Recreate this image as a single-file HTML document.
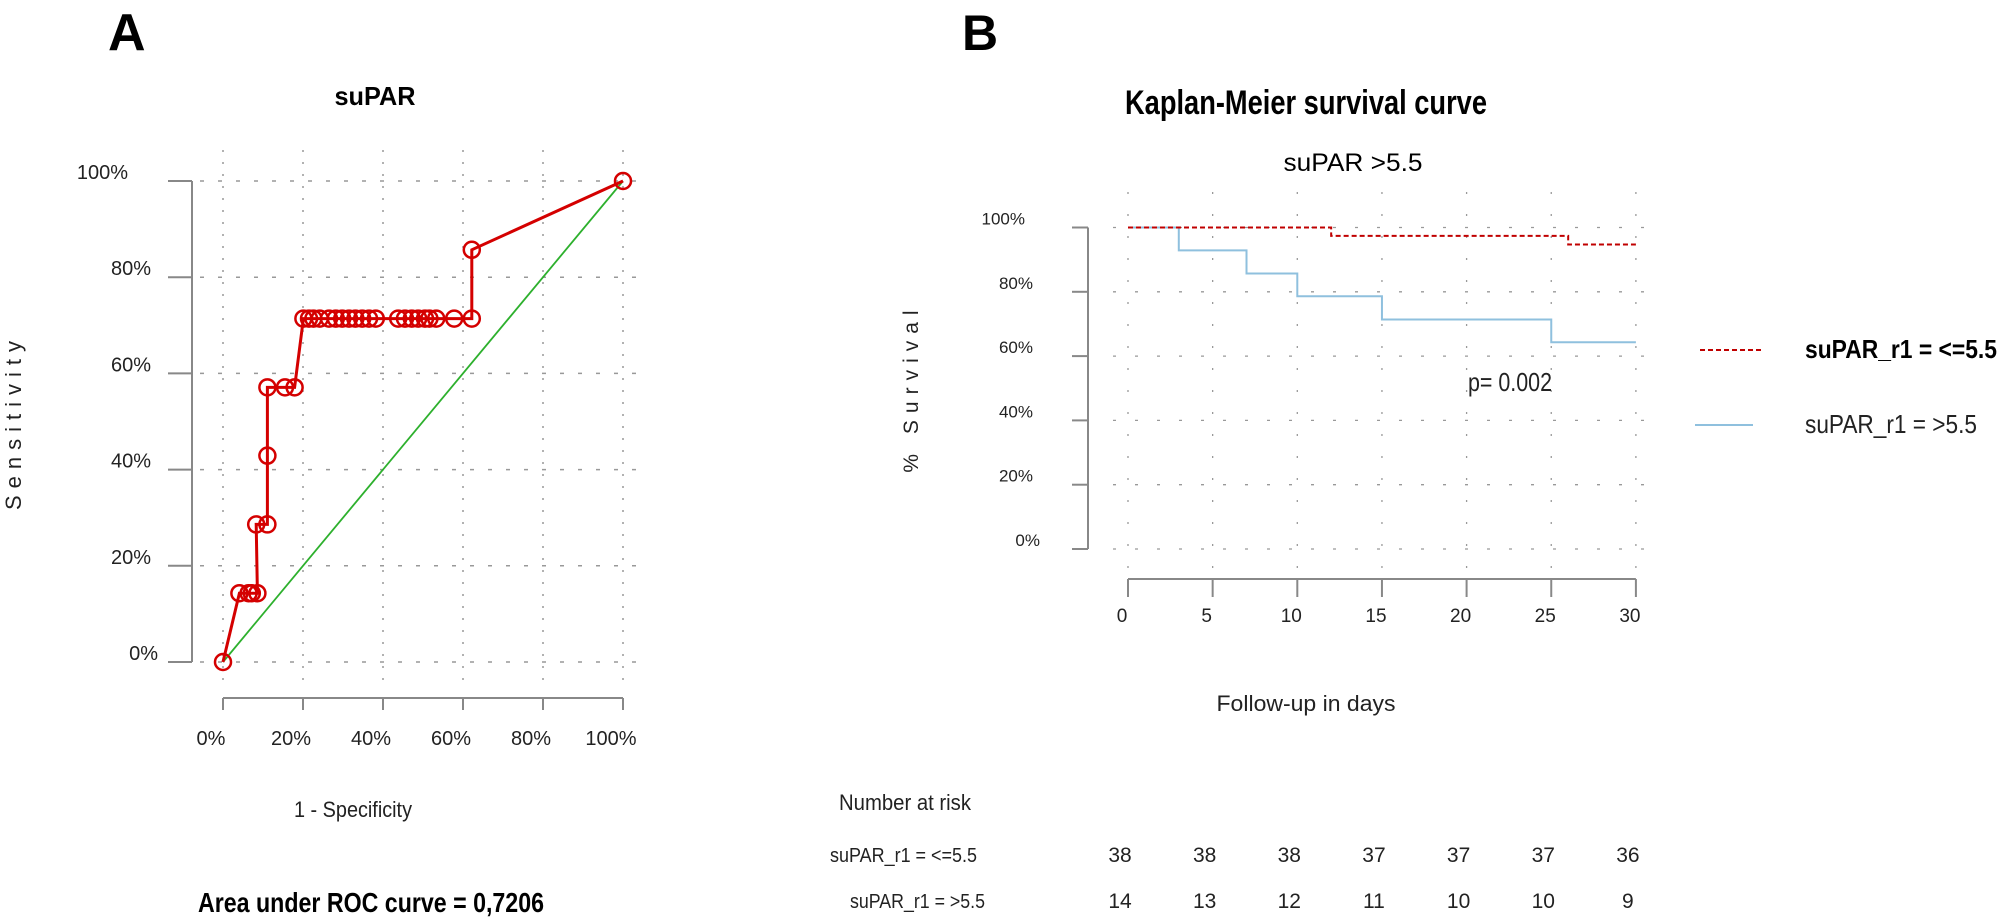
<!DOCTYPE html>
<html><head><meta charset="utf-8"><style>
html,body{margin:0;padding:0;background:#fff;}
svg{display:block;font-family:"Liberation Sans Narrow","Liberation Sans",sans-serif;}
</style></head><body>
<svg id="fig" width="2000" height="920" viewBox="0 0 2000 920" xmlns="http://www.w3.org/2000/svg">
<text x="108" y="50" font-family="Liberation Sans,sans-serif" font-weight="bold" font-size="52">A</text>
<text x="962" y="50" font-family="Liberation Sans,sans-serif" font-weight="bold" font-size="50">B</text>
<g id="roc"></g>
<g id="km"></g>
</svg>
<script>
const NS="http://www.w3.org/2000/svg";
// ROC data
const rocFpr=[0,4.1,6.4,7.2,8.6,8.3,11.1,11.1,11.1,15.5,17.9,20.1,21.5,22.6,24.2,26.5,28.2,29.8,31.5,33.1,34.8,36.5,38.2,43.8,45.5,47.2,48.8,50.5,51.6,53.3,57.8,62.2,62.2,100];
const rocTpr=[0,14.3,14.3,14.3,14.3,28.6,28.6,42.9,57.1,57.1,57.1,71.4,71.4,71.4,71.4,71.4,71.4,71.4,71.4,71.4,71.4,71.4,71.4,71.4,71.4,71.4,71.4,71.4,71.4,71.4,71.4,71.4,85.7,100];
const rocTicks=[0,20,40,60,80,100];
const rocTickLabels=["0%","20%","40%","60%","80%","100%"];
// KM data
const kmTimesHigh=[0,3,7,10,15,25,30];
const kmSurvHigh=[100,92.9,85.7,78.6,71.4,64.3,64.3];
const kmTimesLow=[0,12,26,30];
const kmSurvLow=[100,97.4,94.7,94.7];
const kmXTicks=[0,5,10,15,20,25,30];
const kmYTicks=[0,20,40,60,80,100];
const kmYLabels=["0%","20%","40%","60%","80%","100%"];
const riskLow=[38,38,38,37,37,37,36];
const riskHigh=[14,13,12,11,10,10,9];

function el(p,tag,a,txt){const e=document.createElementNS(NS,tag);for(const k in a)e.setAttribute(k,a[k]);if(txt!==undefined)e.textContent=txt;p.appendChild(e);return e;}

// ---- ROC ----
const roc=document.getElementById('roc');
const rx=v=>223+v*4.0, ry=v=>662-v*4.81;
rocTicks.forEach((t,i)=>{
  let g=el(roc,'line',{x1:rx(t),x2:rx(t),y1:150,y2:682,stroke:'#999','stroke-width':1.5,'stroke-dasharray':'2,10'});
  
  
  g=el(roc,'line',{x1:200,x2:645,y1:ry(t),y2:ry(t),stroke:'#999','stroke-width':1.5,'stroke-dasharray':'4,14'});
  
  
  let tk=el(roc,'line',{x1:168,x2:192,y1:ry(t),y2:ry(t),stroke:'#888','stroke-width':2});
  
  
  const re=(i==5)?128:(i==0?158:151);
  let lb=el(roc,'text',{x:re,y:ry(t)-2,'text-anchor':'end','font-size':20,fill:'#222'},rocTickLabels[i]);
  
  
  tk=el(roc,'line',{x1:rx(t),x2:rx(t),y1:698,y2:710,stroke:'#888','stroke-width':2});
  
  
  lb=el(roc,'text',{x:rx(t)-12,y:745,'text-anchor':'middle','font-size':20,fill:'#222'},rocTickLabels[i]);
  
  
});
let a=el(roc,'line',{x1:192,x2:192,y1:ry(100),y2:ry(0),stroke:'#888','stroke-width':2});


a=el(roc,'line',{x1:rx(0),x2:rx(100),y1:698,y2:698,stroke:'#888','stroke-width':2});


let d=el(roc,'line',{x1:rx(0),y1:ry(0),x2:rx(100),y2:ry(100),stroke:'#2db02d','stroke-width':1.8});


let pts=rocFpr.map((f,i)=>rx(f)+','+ry(rocTpr[i])).join(' ');
let pl=el(roc,'polyline',{points:pts,fill:'none',stroke:'#d40000','stroke-width':3});


rocFpr.forEach((f,i)=>{
  const c=el(roc,'circle',{cx:rx(f),cy:ry(rocTpr[i]),r:8,fill:'none',stroke:'#d40000','stroke-width':2.5});
  
  
});
let t=el(roc,'text',{x:375,y:105,'text-anchor':'middle','font-size':26,'font-weight':'bold',textLength:81,lengthAdjust:'spacingAndGlyphs','font-family':'Liberation Sans,sans-serif'},'suPAR');


t=el(roc,'text',{x:353,y:817,'text-anchor':'middle','font-size':22,textLength:118,lengthAdjust:'spacingAndGlyphs',fill:'#222'},'1 - Specificity');


t=el(roc,'text',{x:21,y:422,'text-anchor':'middle','font-size':22,'letter-spacing':'7',transform:'rotate(-90 21 422)',fill:'#222'},'Sensitivity');


t=el(roc,'text',{x:371,y:912,'text-anchor':'middle','font-size':28,'font-weight':'bold',textLength:346,lengthAdjust:'spacingAndGlyphs','font-family':'Liberation Sans,sans-serif'},'Area under ROC curve = 0,7206');



// ---- KM ----
const km=document.getElementById('km');
const kx=v=>1128+v*16.93, ky=v=>549-v*3.215;
kmXTicks.forEach((v,i)=>{
  let g=el(km,'line',{x1:kx(v),x2:kx(v),y1:192,y2:572,stroke:'#999','stroke-width':1.3,'stroke-dasharray':'2,20'});
  
  
  let tk=el(km,'line',{x1:kx(v),x2:kx(v),y1:579,y2:597,stroke:'#888','stroke-width':2});
  
  
  let lb=el(km,'text',{x:kx(v)-6,y:622,'text-anchor':'middle','font-size':19,fill:'#222'},String(v));
  
  
  lb=el(km,'text',{x:kx(v)-8,y:862,'text-anchor':'middle','font-size':21,fill:'#222'},String(riskLow[i]));
  
  
  lb=el(km,'text',{x:kx(v)-8,y:908,'text-anchor':'middle','font-size':21,fill:'#222'},String(riskHigh[i]));
  
  
});
kmYTicks.forEach((v,i)=>{
  let g=el(km,'line',{x1:1113,x2:1652,y1:ky(v),y2:ky(v),stroke:'#999','stroke-width':1.3,'stroke-dasharray':'3,19'});
  
  
  let tk=el(km,'line',{x1:1072,x2:1088,y1:ky(v),y2:ky(v),stroke:'#888','stroke-width':2});
  
  
  const re=(i==5)?1025:(i==0?1040:1033);
  let lb=el(km,'text',{x:re,y:ky(v)-3,'text-anchor':'end','font-size':17,fill:'#222'},kmYLabels[i]);
  
  
});
a=el(km,'line',{x1:1088,x2:1088,y1:ky(100),y2:ky(0),stroke:'#888','stroke-width':2});


a=el(km,'line',{x1:kx(0),x2:kx(30),y1:579,y2:579,stroke:'#888','stroke-width':2});


function stepPath(ts,ss){let p='M'+kx(ts[0])+','+ky(ss[0]);for(let i=1;i<ts.length;i++){p+=' H'+kx(ts[i])+' V'+ky(ss[i]);}return p;}
let hp=el(km,'path',{d:stepPath(kmTimesHigh,kmSurvHigh),fill:'none',stroke:'#8fc0de','stroke-width':2});


let lp=el(km,'path',{d:stepPath(kmTimesLow,kmSurvLow),fill:'none',stroke:'#c00000','stroke-width':2,'stroke-dasharray':'5,3'});


t=el(km,'text',{x:1306,y:114,'text-anchor':'middle','font-size':34,'font-weight':'bold',textLength:362,lengthAdjust:'spacingAndGlyphs'},'Kaplan-Meier survival curve');


t=el(km,'text',{x:1353,y:171,'text-anchor':'middle','font-size':25,textLength:139,lengthAdjust:'spacingAndGlyphs'},'suPAR >5.5');


t=el(km,'text',{x:918,y:388,'text-anchor':'middle','font-size':21,'letter-spacing':'7',transform:'rotate(-90 918 388)',fill:'#222'},'% Survival');


t=el(km,'text',{x:1306,y:711,'text-anchor':'middle','font-size':22,textLength:179,lengthAdjust:'spacingAndGlyphs',fill:'#222'},'Follow-up in days');


t=el(km,'text',{x:1468,y:391,'font-size':26,textLength:84,lengthAdjust:'spacingAndGlyphs',fill:'#222'},'p=  0.002');


let lg=el(km,'line',{x1:1700,x2:1764,y1:350,y2:350,stroke:'#c00000','stroke-width':2,'stroke-dasharray':'5,3'});


lg=el(km,'line',{x1:1695,x2:1753,y1:425,y2:425,stroke:'#8fc0de','stroke-width':2});


t=el(km,'text',{x:1805,y:358,'font-size':26,'font-weight':'bold',textLength:192,lengthAdjust:'spacingAndGlyphs'},'suPAR_r1 = <=5.5');


t=el(km,'text',{x:1805,y:433,'font-size':26,textLength:172,lengthAdjust:'spacingAndGlyphs',fill:'#222'},'suPAR_r1 = >5.5');


t=el(km,'text',{x:839,y:810,'font-size':22,textLength:132,lengthAdjust:'spacingAndGlyphs',fill:'#222'},'Number at risk');


t=el(km,'text',{x:830,y:862,'font-size':20,textLength:147,lengthAdjust:'spacingAndGlyphs',fill:'#222'},'suPAR_r1 = <=5.5');


t=el(km,'text',{x:850,y:908,'font-size':20,textLength:135,lengthAdjust:'spacingAndGlyphs',fill:'#222'},'suPAR_r1 = >5.5');


</script>
</body></html>
